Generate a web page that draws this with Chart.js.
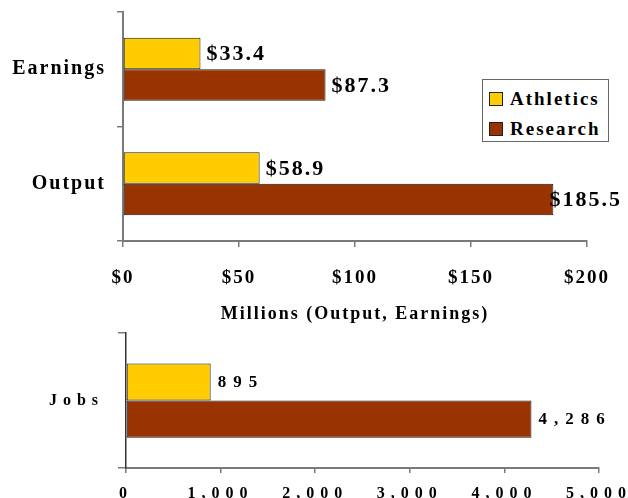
<!DOCTYPE html>
<html>
<head>
<meta charset="utf-8">
<script src="https://cdn.jsdelivr.net/npm/chart.js@4/dist/chart.umd.min.js"></script>
<style>
  html, body { margin: 0; padding: 0; background: #fff; }
  body { width: 628px; height: 498px; position: relative; overflow: hidden; font-family: "Liberation Serif", serif; }
  canvas { position: absolute; left: 0; }
  #moneyChart { top: 0; }
  #jobsChart { top: 330px; }
  .legend {
    position: absolute; left: 482px; top: 79px; width: 125px; height: 61px;
    border: 1px solid #666; background: #fff;
  }
  .legend div { position: absolute; left: 6px; font-weight: bold; font-size: 19px; letter-spacing: 2px; line-height: 20px; }
  .legend span { display: inline-block; width: 12px; height: 12px; border: 1px solid #222; margin-right: 7px; vertical-align: -1px; }
</style>
</head>
<body>
<canvas id="moneyChart" width="628" height="330"></canvas>
<canvas id="jobsChart" width="628" height="168"></canvas>
<div class="legend">
  <div style="top:9px"><span style="background:#ffcc00"></span>Athletics</div>
  <div style="top:39px"><span style="background:#993300"></span>Research</div>
</div>
<script>
// data
const moneyCategories = ["Earnings", "Output"];
const athleticsMoney = [33.4, 58.9];
const researchMoney = [87.3, 185.5];

const jobCategories = ["Jobs"];
const athleticsJobs = [895];
const researchJobs = [4286];

const seriesNames = ["Athletics", "Research"];
const seriesColors = ["#ffcc00", "#993300"];

const axisGray = "#7a7a7a";
const serif = "'Liberation Serif', 'Times New Roman', serif";

// chart.js has no letter spacing option, so set it on the context before drawing
const spacingPlugin = {
    id: "spacing",
    beforeDraw(chart, args, opts) {
        chart.ctx.letterSpacing = opts.value;
    }
};

// value labels at the end of each bar, pulled back if they run past the edge
const valueLabels = {
    id: "valueLabels",
    afterDatasetsDraw(chart, args, opts) {
        const ctx = chart.ctx;
        ctx.save();
        ctx.font = opts.font;
        ctx.letterSpacing = opts.spacing;
        ctx.fillStyle = "#000";
        ctx.textBaseline = "middle";
        ctx.textAlign = "left";
        chart.data.datasets.forEach((ds, i) => {
            chart.getDatasetMeta(i).data.forEach((bar, j) => {
                const text = opts.format(ds.data[j]);
                const w = ctx.measureText(text).width;
                let x = bar.x + opts.gap;
                if (x + w > opts.maxRight) x = opts.maxRight - w;
                ctx.fillText(text, x, bar.y + 1);
            });
        });
        ctx.restore();
    }
};

function makeDatasets(a, r) {
    return [a, r].map((vals, i) => ({
        label: seriesNames[i],
        data: vals,
        backgroundColor: seriesColors[i],
        borderColor: "#1a1a1a",
        borderWidth: 1,
        borderSkipped: false,
        categoryPercentage: 0.55,
        barPercentage: 1.0
    }));
}

// category axis: drop the half-label padding chart.js adds above and below
function fixYAxis(width) {
    return axis => {
        axis.width = width;
        axis.paddingTop = 0;
        axis.paddingBottom = 0;
    };
}

new Chart(document.getElementById("moneyChart"), {
    type: "bar",
    data: { labels: moneyCategories, datasets: makeDatasets(athleticsMoney, researchMoney) },
    options: {
        indexAxis: "y",
        responsive: false,
        animation: false,
        devicePixelRatio: 1,
        layout: { padding: { top: 12, right: 41, left: 0, bottom: 0 } },
        plugins: {
            legend: { display: false },
            tooltip: { enabled: false },
            spacing: { value: "2px" },
            valueLabels: {
                font: "bold 22px " + serif,
                spacing: "2px",
                gap: 6,
                maxRight: 622,
                format: v => "$" + v.toFixed(1)
            }
        },
        scales: {
            x: {
                min: 0, max: 200,
                ticks: {
                    stepSize: 50,
                    padding: 20,
                    color: "#000",
                    font: { family: serif, size: 19, weight: "bold" },
                    callback: v => "$" + v
                },
                grid: { drawOnChartArea: false, tickLength: 6, color: axisGray, lineWidth: 1.5 },
                border: { color: axisGray, width: 2 },
                title: {
                    display: true,
                    text: "Millions (Output, Earnings)",
                    color: "#000",
                    font: { family: serif, size: 18, weight: "bold" },
                    padding: { top: 0, bottom: 5 }
                },
                afterFit(axis) { axis.height = 89; }
            },
            y: {
                ticks: {
                    padding: 11,
                    color: "#000",
                    font: { family: serif, size: 20, weight: "bold" }
                },
                grid: { drawOnChartArea: false, tickLength: 6, color: axisGray, lineWidth: 1.5 },
                border: { color: axisGray, width: 2 },
                afterFit: fixYAxis(123)
            }
        }
    },
    plugins: [spacingPlugin, valueLabels]
});

new Chart(document.getElementById("jobsChart"), {
    type: "bar",
    data: { labels: jobCategories, datasets: makeDatasets(athleticsJobs, researchJobs) },
    options: {
        indexAxis: "y",
        responsive: false,
        animation: false,
        devicePixelRatio: 1,
        layout: { padding: { top: 3, right: 27, left: 0, bottom: 0 } },
        plugins: {
            legend: { display: false },
            tooltip: { enabled: false },
            spacing: { value: "6px" },
            valueLabels: {
                font: "bold 17px " + serif,
                spacing: "7px",
                gap: 7,
                maxRight: 628,
                format: v => v.toLocaleString("en-US")
            }
        },
        scales: {
            x: {
                min: 0, max: 5000,
                ticks: {
                    stepSize: 1000,
                    padding: 11,
                    color: "#000",
                    font: { family: serif, size: 16, weight: "bold" },
                    callback: v => v.toLocaleString("en-US")
                },
                grid: { drawOnChartArea: false, tickLength: 5, color: axisGray, lineWidth: 1.5 },
                border: { color: axisGray, width: 2 },
                afterFit(axis) { axis.height = 30; }
            },
            y: {
                ticks: {
                    padding: 14,
                    color: "#000",
                    font: { family: serif, size: 16, weight: "bold" }
                },
                grid: { drawOnChartArea: false, tickLength: 8, color: axisGray, lineWidth: 1.5 },
                border: { color: "#333", width: 1.5 },
                afterFit: fixYAxis(126)
            }
        }
    },
    plugins: [spacingPlugin, valueLabels]
});
</script>
</body>
</html>
